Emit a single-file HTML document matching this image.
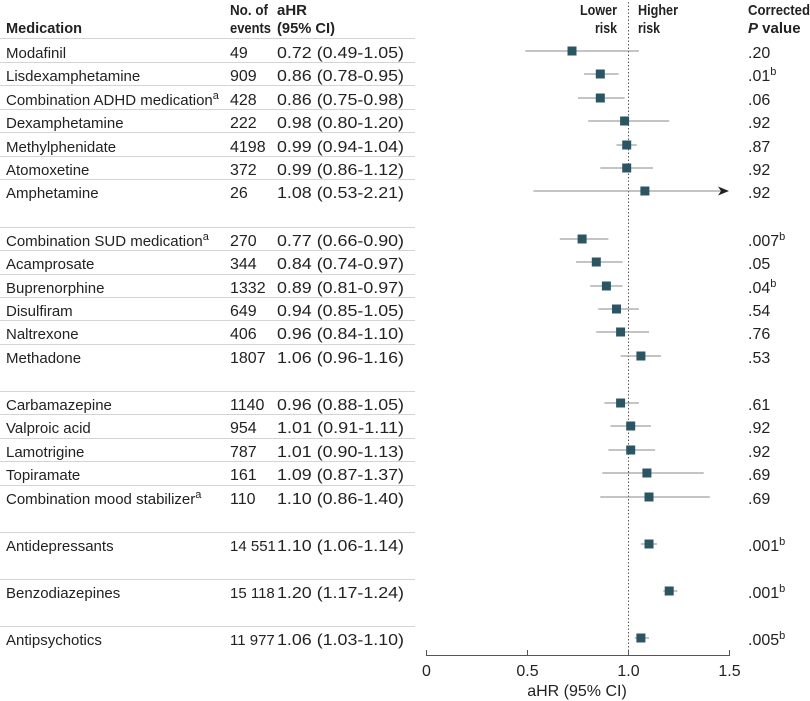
<!DOCTYPE html>
<html><head><meta charset="utf-8"><style>
html,body{margin:0;padding:0;background:#fff;}
svg{display:block;font-family:"Liberation Sans",sans-serif;}
text{font-size:16px;fill:#222;}
.n{font-size:15px;}
.h{font-weight:bold;font-size:15px;}
.l{stroke:#d4d4d4;stroke-width:1;}
.ci{stroke:#888;stroke-width:1;}
.m{fill:#2b5563;}
.big{font-size:15px;}
</style></head><body>
<svg width="810" height="701" viewBox="0 0 810 701">
<text x="6" y="33" class="h" textLength="76" lengthAdjust="spacingAndGlyphs">Medication</text>
<text x="230" y="15" class="h" textLength="38" lengthAdjust="spacingAndGlyphs">No. of</text>
<text x="230" y="33" class="h" textLength="41" lengthAdjust="spacingAndGlyphs">events</text>
<text x="277" y="15" class="h" textLength="30" lengthAdjust="spacingAndGlyphs">aHR</text>
<text x="277" y="33" class="h" textLength="58" lengthAdjust="spacingAndGlyphs">(95% CI)</text>
<text x="580" y="15" class="h" textLength="37" lengthAdjust="spacingAndGlyphs">Lower</text>
<text x="595" y="33" class="h" textLength="22" lengthAdjust="spacingAndGlyphs">risk</text>
<text x="638" y="15" class="h" textLength="40" lengthAdjust="spacingAndGlyphs">Higher</text>
<text x="638" y="33" class="h" textLength="22" lengthAdjust="spacingAndGlyphs">risk</text>
<text x="748" y="15" class="h" textLength="62" lengthAdjust="spacingAndGlyphs">Corrected</text>
<text x="748" y="33" class="h"><tspan font-style="italic">P</tspan> value</text>
<line x1="628.5" y1="2" x2="628.5" y2="655" stroke="#555" stroke-dasharray="1.5,2" stroke-width="1"/>
<g class="l">
<line x1="0" y1="38.5" x2="415" y2="38.5"/><line x1="0" y1="62.5" x2="415" y2="62.5"/><line x1="0" y1="85.5" x2="415" y2="85.5"/><line x1="0" y1="109.5" x2="415" y2="109.5"/><line x1="0" y1="132.5" x2="415" y2="132.5"/><line x1="0" y1="156.5" x2="415" y2="156.5"/><line x1="0" y1="179.5" x2="415" y2="179.5"/>
<line x1="0" y1="227.5" x2="415" y2="227.5"/><line x1="0" y1="250.5" x2="415" y2="250.5"/><line x1="0" y1="274.5" x2="415" y2="274.5"/><line x1="0" y1="297.5" x2="415" y2="297.5"/><line x1="0" y1="320.5" x2="415" y2="320.5"/><line x1="0" y1="344.5" x2="415" y2="344.5"/>
<line x1="0" y1="391.5" x2="415" y2="391.5"/><line x1="0" y1="414.5" x2="415" y2="414.5"/><line x1="0" y1="438.5" x2="415" y2="438.5"/><line x1="0" y1="461.5" x2="415" y2="461.5"/><line x1="0" y1="485.5" x2="415" y2="485.5"/>
<line x1="0" y1="532.5" x2="415" y2="532.5"/><line x1="0" y1="579.5" x2="415" y2="579.5"/><line x1="0" y1="626.5" x2="415" y2="626.5"/>
</g>
<g transform="translate(0,3)">
<text x="6" y="55" class="n">Modafinil</text><text x="230" y="55">49</text><text x="277" y="55" textLength="127" lengthAdjust="spacingAndGlyphs">0.72 (0.49-1.05)</text><text x="748" y="55">.20</text>
<text x="6" y="78" class="n">Lisdexamphetamine</text><text x="230" y="78">909</text><text x="277" y="78" textLength="127" lengthAdjust="spacingAndGlyphs">0.86 (0.78-0.95)</text><text x="748" y="78">.01<tspan dy="-6" font-size="11">b</tspan></text>
<text x="6" y="102" class="n">Combination ADHD medication<tspan dy="-6" font-size="11">a</tspan></text><text x="230" y="102">428</text><text x="277" y="102" textLength="127" lengthAdjust="spacingAndGlyphs">0.86 (0.75-0.98)</text><text x="748" y="102">.06</text>
<text x="6" y="125" class="n">Dexamphetamine</text><text x="230" y="125">222</text><text x="277" y="125" textLength="127" lengthAdjust="spacingAndGlyphs">0.98 (0.80-1.20)</text><text x="748" y="125">.92</text>
<text x="6" y="149" class="n">Methylphenidate</text><text x="230" y="149">4198</text><text x="277" y="149" textLength="127" lengthAdjust="spacingAndGlyphs">0.99 (0.94-1.04)</text><text x="748" y="149">.87</text>
<text x="6" y="172" class="n">Atomoxetine</text><text x="230" y="172">372</text><text x="277" y="172" textLength="127" lengthAdjust="spacingAndGlyphs">0.99 (0.86-1.12)</text><text x="748" y="172">.92</text>
<text x="6" y="195" class="n">Amphetamine</text><text x="230" y="195">26</text><text x="277" y="195" textLength="127" lengthAdjust="spacingAndGlyphs">1.08 (0.53-2.21)</text><text x="748" y="195">.92</text>

<text x="6" y="243" class="n">Combination SUD medication<tspan dy="-6" font-size="11">a</tspan></text><text x="230" y="243">270</text><text x="277" y="243" textLength="127" lengthAdjust="spacingAndGlyphs">0.77 (0.66-0.90)</text><text x="748" y="243">.007<tspan dy="-6" font-size="11">b</tspan></text>
<text x="6" y="266" class="n">Acamprosate</text><text x="230" y="266">344</text><text x="277" y="266" textLength="127" lengthAdjust="spacingAndGlyphs">0.84 (0.74-0.97)</text><text x="748" y="266">.05</text>
<text x="6" y="290" class="n">Buprenorphine</text><text x="230" y="290">1332</text><text x="277" y="290" textLength="127" lengthAdjust="spacingAndGlyphs">0.89 (0.81-0.97)</text><text x="748" y="290">.04<tspan dy="-6" font-size="11">b</tspan></text>
<text x="6" y="313" class="n">Disulfiram</text><text x="230" y="313">649</text><text x="277" y="313" textLength="127" lengthAdjust="spacingAndGlyphs">0.94 (0.85-1.05)</text><text x="748" y="313">.54</text>
<text x="6" y="336" class="n">Naltrexone</text><text x="230" y="336">406</text><text x="277" y="336" textLength="127" lengthAdjust="spacingAndGlyphs">0.96 (0.84-1.10)</text><text x="748" y="336">.76</text>
<text x="6" y="360" class="n">Methadone</text><text x="230" y="360">1807</text><text x="277" y="360" textLength="127" lengthAdjust="spacingAndGlyphs">1.06 (0.96-1.16)</text><text x="748" y="360">.53</text>

<text x="6" y="407" class="n">Carbamazepine</text><text x="230" y="407">1140</text><text x="277" y="407" textLength="127" lengthAdjust="spacingAndGlyphs">0.96 (0.88-1.05)</text><text x="748" y="407">.61</text>
<text x="6" y="430" class="n">Valproic acid</text><text x="230" y="430">954</text><text x="277" y="430" textLength="127" lengthAdjust="spacingAndGlyphs">1.01 (0.91-1.11)</text><text x="748" y="430">.92</text>
<text x="6" y="454" class="n">Lamotrigine</text><text x="230" y="454">787</text><text x="277" y="454" textLength="127" lengthAdjust="spacingAndGlyphs">1.01 (0.90-1.13)</text><text x="748" y="454">.92</text>
<text x="6" y="477" class="n">Topiramate</text><text x="230" y="477">161</text><text x="277" y="477" textLength="127" lengthAdjust="spacingAndGlyphs">1.09 (0.87-1.37)</text><text x="748" y="477">.69</text>
<text x="6" y="501" class="n">Combination mood stabilizer<tspan dy="-6" font-size="11">a</tspan></text><text x="230" y="501">110</text><text x="277" y="501" textLength="127" lengthAdjust="spacingAndGlyphs">1.10 (0.86-1.40)</text><text x="748" y="501">.69</text>

<text x="6" y="548" class="n">Antidepressants</text><text x="230" y="548" class="big">14 551</text><text x="277" y="548" textLength="127" lengthAdjust="spacingAndGlyphs">1.10 (1.06-1.14)</text><text x="748" y="548">.001<tspan dy="-6" font-size="11">b</tspan></text>
<text x="6" y="595" class="n">Benzodiazepines</text><text x="230" y="595" class="big">15 118</text><text x="277" y="595" textLength="127" lengthAdjust="spacingAndGlyphs">1.20 (1.17-1.24)</text><text x="748" y="595">.001<tspan dy="-6" font-size="11">b</tspan></text>
<text x="6" y="642" class="n">Antipsychotics</text><text x="230" y="642" class="big">11 977</text><text x="277" y="642" textLength="127" lengthAdjust="spacingAndGlyphs">1.06 (1.03-1.10)</text><text x="748" y="642">.005<tspan dy="-6" font-size="11">b</tspan></text>
</g>
<g transform="translate(0,1)">
<g class="ci">
<line x1="525.3" y1="50" x2="638.8" y2="50"/>
<line x1="584.1" y1="73" x2="618.6" y2="73"/>
<line x1="578" y1="97" x2="624.6" y2="97"/>
<line x1="588.2" y1="120" x2="669.2" y2="120"/>
<line x1="616.5" y1="144" x2="636.8" y2="144"/>
<line x1="600.3" y1="167" x2="653" y2="167"/>
<line x1="533.4" y1="190" x2="722" y2="190"/>
<line x1="559.8" y1="238" x2="608.4" y2="238"/>
<line x1="576" y1="261" x2="622.6" y2="261"/>
<line x1="590.2" y1="285" x2="622.6" y2="285"/>
<line x1="598.3" y1="308" x2="638.8" y2="308"/>
<line x1="596.3" y1="331" x2="649" y2="331"/>
<line x1="620.6" y1="355" x2="661.1" y2="355"/>
<line x1="604.4" y1="402" x2="638.8" y2="402"/>
<line x1="610.5" y1="425" x2="651" y2="425"/>
<line x1="608.4" y1="449" x2="655.1" y2="449"/>
<line x1="602.3" y1="472" x2="703.7" y2="472"/>
<line x1="600.3" y1="496" x2="709.8" y2="496"/>
<line x1="640.9" y1="543" x2="657.1" y2="543"/>
<line x1="663.2" y1="590" x2="677.4" y2="590"/>
<line x1="634.8" y1="637" x2="649" y2="637"/>
</g>
<polygon points="729,190 718,185.5 721,190 718,194.5" fill="#222"/>
<g class="m" transform="translate(0.5,0.5)">
<rect x="567" y="45" width="9" height="9"/>
<rect x="595.3" y="68" width="9" height="9"/>
<rect x="595.3" y="92" width="9" height="9"/>
<rect x="619.6" y="115" width="9" height="9"/>
<rect x="621.7" y="139" width="9" height="9"/>
<rect x="621.7" y="162" width="9" height="9"/>
<rect x="639.9" y="185" width="9" height="9"/>
<rect x="577.1" y="233" width="9" height="9"/>
<rect x="591.3" y="256" width="9" height="9"/>
<rect x="601.4" y="280" width="9" height="9"/>
<rect x="611.5" y="303" width="9" height="9"/>
<rect x="615.6" y="326" width="9" height="9"/>
<rect x="635.9" y="350" width="9" height="9"/>
<rect x="615.6" y="397" width="9" height="9"/>
<rect x="625.7" y="420" width="9" height="9"/>
<rect x="625.7" y="444" width="9" height="9"/>
<rect x="641.9" y="467" width="9" height="9"/>
<rect x="644" y="491" width="9" height="9"/>
<rect x="644" y="538" width="9" height="9"/>
<rect x="664.2" y="585" width="9" height="9"/>
<rect x="635.9" y="632" width="9" height="9"/>
</g>
</g>
<g stroke="#555" stroke-width="1">
<line x1="426" y1="655.5" x2="730" y2="655.5"/>
<line x1="426.5" y1="650" x2="426.5" y2="656"/>
<line x1="527.5" y1="650" x2="527.5" y2="656"/>
<line x1="628.5" y1="650" x2="628.5" y2="656"/>
<line x1="729.5" y1="650" x2="729.5" y2="656"/>
</g>
<text x="426.5" y="676" text-anchor="middle">0</text>
<text x="527.5" y="676" text-anchor="middle">0.5</text>
<text x="628.5" y="676" text-anchor="middle">1.0</text>
<text x="729.5" y="676" text-anchor="middle">1.5</text>
<text x="577" y="696" text-anchor="middle" font-size="14">aHR (95% CI)</text>
</svg>
</body></html>
